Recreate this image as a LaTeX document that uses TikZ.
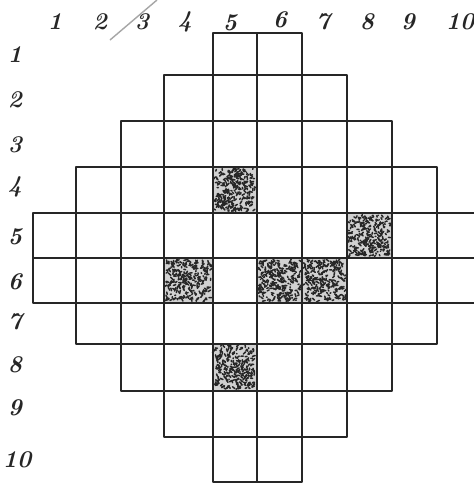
\documentclass[tikz,border=0pt]{standalone}
\usetikzlibrary{calc}
\begin{document}
\begin{tikzpicture}[x=1pt,y=-1pt,
  gridline/.style={line width=1.8pt, draw=black!85, line join=round},
  lbl/.style={font=\fontsize{24}{24}\selectfont\bfseries\itshape, text=black!85, inner sep=0pt},
  stroke/.style={line width=1.5pt, draw=black!85, line cap=round},
  slash/.style={line width=1.4pt, draw=black!35}]
\useasboundingbox (0,0) rectangle (474,485);
\fill[white] (0,0) rectangle (474,485);
\def\xs{{33,76,121,164,213,257,302,347,392,437,482}}
\def\ys{{33,75,121,167,213,258,303,344,391,437,482}}
% stippled cells (row/column index)
\pgfmathsetseed{7}
\foreach \r/\c in {4/4,5/7,6/3,6/5,6/6,8/4} {
  \pgfmathtruncatemacro\rn{\r-1}
  \pgfmathtruncatemacro\cn{\c+1}
  \pgfmathsetmacro\yt{\ys[\rn]}
  \pgfmathsetmacro\yb{\ys[\r]}
  \pgfmathsetmacro\xl{\xs[\c]}
  \pgfmathsetmacro\xr{\xs[\cn]}
  \fill[black!18] (\xl,\yt) rectangle (\xr,\yb);
  \foreach \i in {1,...,260} {
    \pgfmathsetmacro\px{\xl+2+rnd*(\xr-\xl-4)}
    \pgfmathsetmacro\py{\yt+2+rnd*(\yb-\yt-4)}
    \pgfmathsetmacro\dx{rand*2.8}
    \pgfmathsetmacro\dy{rand*2.8}
    \draw[stroke] (\px,\py) -- ++(\dx,\dy);
  }
}
% grid rows
\foreach \r/\a/\b in {1/4/6,2/3/7,3/2/8,4/1/9,5/0/10,6/0/10,7/1/9,8/2/8,9/3/7,10/4/6} {
  \pgfmathtruncatemacro\rn{\r-1}
  \pgfmathtruncatemacro\bb{\b-1}
  \pgfmathsetmacro\yt{\ys[\rn]}
  \pgfmathsetmacro\yb{\ys[\r]}
  \foreach \c in {\a,...,\bb} {
    \pgfmathtruncatemacro\cn{\c+1}
    \pgfmathsetmacro\xl{\xs[\c]}
    \pgfmathsetmacro\xr{\xs[\cn]}
    \draw[gridline] (\xl,\yt) rectangle (\xr,\yb);
  }
}
% column labels
\node[lbl] (t1) at (55,22) {1};
\node[lbl] (t2) at (100,22) {2};
\node[lbl] (t3) at (142,22) {3};
\node[lbl] (t4) at (185,22) {4};
\node[lbl] (t5) at (230,23) {5};
\node[lbl] (t6) at (280,20) {6};
\node[lbl] (t7) at (323,22) {7};
\node[lbl] (t8) at (367,22) {8};
\node[lbl] (t9) at (408,22) {9};
\node[lbl] (t10) at (460,22) {10};
% row labels
\node[lbl] (l1) at (15,55) {1};
\node[lbl] (l2) at (15,100) {2};
\node[lbl] (l3) at (15,145) {3};
\node[lbl] (l4) at (15,187) {4};
\node[lbl] (l5) at (15,237) {5};
\node[lbl] (l6) at (15,282) {6};
\node[lbl] (l7) at (15,322) {7};
\node[lbl] (l8) at (15,365) {8};
\node[lbl] (l9) at (15,408) {9};
\node[lbl] (l10) at (17,460) {10};
% pencil slash through column label 3
\coordinate (s1) at (110,40);
\coordinate (s2) at (157,0);
\draw[slash] (s1) -- (s2);
\end{tikzpicture}
\end{document}
